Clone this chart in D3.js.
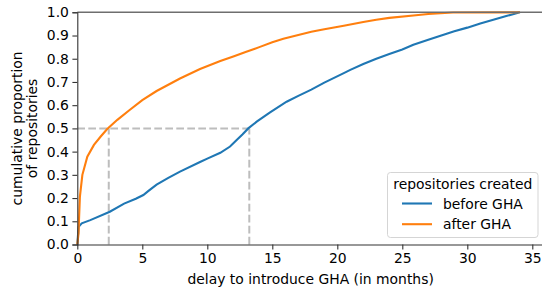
<!DOCTYPE html>
<html>
<head>
<meta charset="utf-8">
<script src="https://cdn.jsdelivr.net/npm/d3@7"></script>
<style>
  body { margin: 0; background: #fff; }
  text { font-family: "DejaVu Sans", sans-serif; }
</style>
</head>
<body>
<script>
// ecdf curves (months, cumulative share)
const beforeX = [0.0, 0.1, 0.34, 1, 2.5, 3.6, 4.5, 5.08, 5.5, 6.1, 7, 7.9, 9.44, 10, 11, 11.75, 12.26, 12.7, 13.15, 13.8, 14.8, 16.1, 17, 18, 19, 20.5, 21, 22, 23, 24, 25, 25.85, 27, 28, 29, 30, 31, 32, 33, 34.05];
const beforeY = [0.0, 0.076, 0.091, 0.105, 0.141, 0.176, 0.197, 0.213, 0.232, 0.258, 0.287, 0.314, 0.355, 0.37, 0.395, 0.422, 0.45, 0.474, 0.5, 0.529, 0.568, 0.615, 0.64, 0.667, 0.697, 0.738, 0.752, 0.777, 0.8, 0.82, 0.84, 0.86, 0.882, 0.9, 0.918, 0.934, 0.952, 0.968, 0.984, 1.0];

const afterX = [0.0, 0.1, 0.13, 0.2, 0.39, 0.77, 1.28, 1.8, 2.3, 3.08, 4, 5, 6.1, 7, 7.9, 9.44, 11, 12, 13, 14, 15, 15.85, 17, 18, 19, 20.5, 22, 23, 24, 25.85, 27, 28.9, 34.05];
const afterY = [0.0, 0.05, 0.106, 0.206, 0.3, 0.378, 0.429, 0.465, 0.497, 0.537, 0.578, 0.622, 0.661, 0.688, 0.715, 0.756, 0.79, 0.81, 0.83, 0.85, 0.871, 0.886, 0.902, 0.916, 0.927, 0.942, 0.958, 0.968, 0.976, 0.986, 0.993, 0.999, 1.0];

const medians = [2.42, 13.23];
const xTicks = [0, 5, 10, 15, 20, 25, 30, 35];
const yTicks = [0, 0.1, 0.2, 0.3, 0.4, 0.5, 0.6, 0.7, 0.8, 0.9, 1.0];
const seriesNames = ["before GHA", "after GHA"];
const colors = ["#1f77b4", "#ff7f0e"];

const W = 542, H = 291;
const mLeft = 77.3, mTop = 12.3, mBottom = 244.5;

const x = d3.scaleLinear().domain([0, 35.7]).range([mLeft, mLeft + 35.7 * 13]);
const y = d3.scaleLinear().domain([0, 1]).range([mBottom, mTop]);

const svg = d3.select("body").append("svg")
  .attr("width", W)
  .attr("height", H);

// dashed median guides
const guide = svg.append("g")
  .attr("stroke", "#bdbdbd")
  .attr("stroke-width", 2)
  .attr("stroke-dasharray", "7.7,3.3")
  .attr("fill", "none");

guide.append("line")
  .attr("x1", x(0)).attr("x2", x(medians[1]))
  .attr("y1", y(0.5)).attr("y2", y(0.5));
medians.forEach(m => {
  guide.append("line")
    .attr("x1", x(m)).attr("x2", x(m))
    .attr("y1", y(0)).attr("y2", y(0.5));
});

const line = d3.line()
  .x(d => x(d[0]))
  .y(d => y(d[1]));

svg.append("path")
  .datum(d3.zip(beforeX, beforeY))
  .attr("d", line)
  .attr("fill", "none")
  .attr("stroke", colors[0])
  .attr("stroke-width", 2.1);

svg.append("path")
  .datum(d3.zip(afterX, afterY))
  .attr("d", line)
  .attr("fill", "none")
  .attr("stroke", colors[1])
  .attr("stroke-width", 2.1);

// top reference line at 1.0
svg.append("line")
  .attr("x1", x(0)).attr("x2", W)
  .attr("y1", y(1)).attr("y2", y(1))
  .attr("stroke", "#6e6e6e")
  .attr("stroke-width", 1.6);

// axes
const xAxis = svg.append("g")
  .attr("transform", `translate(0,${mBottom})`)
  .call(d3.axisBottom(x).tickValues(xTicks).tickSize(4.9).tickPadding(3.5).tickFormat(d3.format("d")));

const yAxis = svg.append("g")
  .attr("transform", `translate(${mLeft},0)`)
  .call(d3.axisLeft(y).tickValues(yTicks).tickSize(4.9).tickPadding(3.5).tickFormat(d3.format(".1f")));

[xAxis, yAxis].forEach(a => {
  a.select(".domain").attr("stroke", "#333").attr("stroke-width", 1.1);
  a.selectAll(".tick line").attr("stroke", "#333").attr("stroke-width", 1.1);
  a.selectAll(".tick text").attr("fill", "#000").style("font-size", "13.9px")
    .style("font-family", "DejaVu Sans");
});
xAxis.select(".domain").attr("d", `M${mLeft},0.5H${W}`);

// axis labels
svg.append("text")
  .attr("x", (mLeft + W) / 2 + 1)
  .attr("y", 284)
  .attr("text-anchor", "middle")
  .style("font-size", "13.9px")
  .text("delay to introduce GHA (in months)");

const yl = svg.append("text")
  .attr("transform", `translate(22,${(mTop + mBottom) / 2}) rotate(-90)`)
  .attr("text-anchor", "middle")
  .style("font-size", "13.9px");
yl.append("tspan").attr("x", 0).attr("dy", 0).text("cumulative proportion");
yl.append("tspan").attr("x", 0).attr("dy", 15).text("of repositories");

// legend
const lg = svg.append("g");
lg.append("rect")
  .attr("x", 387.5).attr("y", 172.5)
  .attr("width", 150.5).attr("height", 65)
  .attr("rx", 3)
  .attr("fill", "#fff")
  .attr("fill-opacity", 0.8)
  .attr("stroke", "#d5d5d5");
lg.append("text")
  .attr("x", 393.3).attr("y", 188.5)
  .style("font-size", "13.9px")
  .text("repositories created");
seriesNames.forEach((name, i) => {
  const yy = 203.5 + i * 20.7;
  lg.append("line")
    .attr("x1", 402).attr("x2", 432)
    .attr("y1", yy).attr("y2", yy)
    .attr("stroke", colors[i])
    .attr("stroke-width", 2.1);
  lg.append("text")
    .attr("x", 443).attr("y", yy + 5)
    .style("font-size", "13.9px")
    .text(name);
});
</script>
</body>
</html>
